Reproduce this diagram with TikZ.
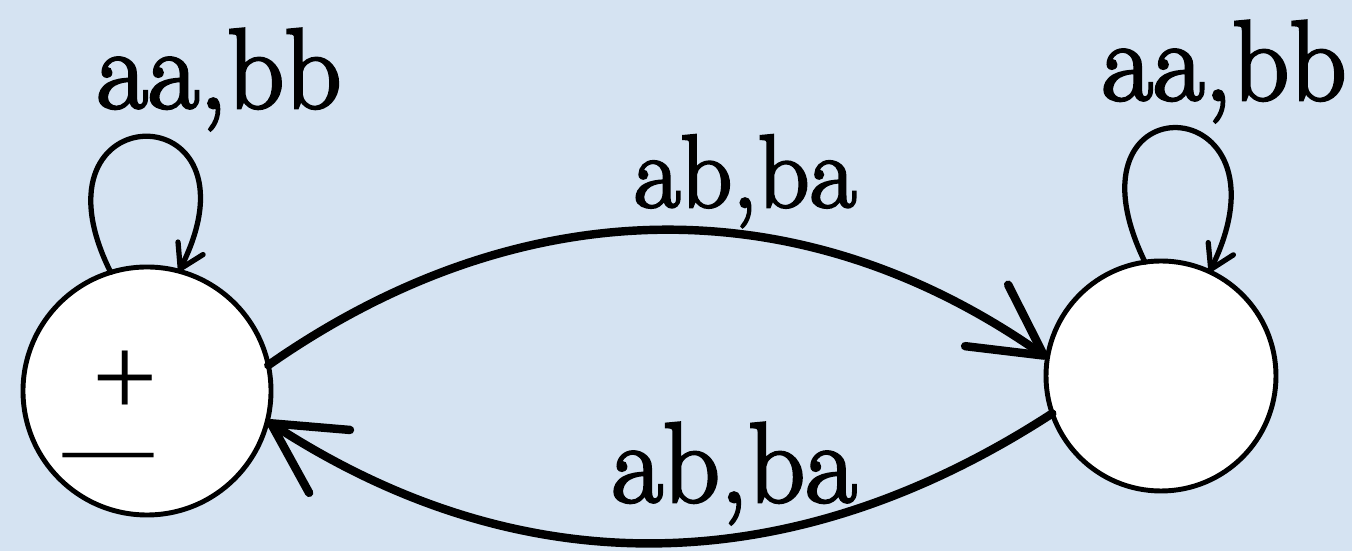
\documentclass[tikz,border=0pt]{standalone}
\usepackage{fontspec}
\newfontfamily\lserif{Liberation Serif}
\newfontfamily\lmfont{Latin Modern Roman}[FakeStretch=0.98,FakeBold=2.5]
\usetikzlibrary{arrows.meta}
\definecolor{bgblue}{RGB}{213,227,242}
\begin{document}
\begin{tikzpicture}[x=0.1mm,y=0.1mm,
  statenode/.style={circle,draw=black,fill=white,line width=1.4pt,inner sep=0pt,outer sep=0pt},
  lbl/.style={inner sep=0pt,anchor=base,font=\lmfont\fontsize{32.5}{36}\selectfont},
  bigarrow/.style={line width=2.4pt,line cap=round,-{Straight Barb[length=7mm,width=7.5mm,round]}},
  selfloop/.style={line width=1.5pt,line cap=round,-{Straight Barb[length=2.3mm,width=2.8mm,round]}}]
\fill[bgblue] (0,0) rectangle (1352,551);
\useasboundingbox (0,0) rectangle (1352,551);
% states
\node[statenode,minimum size=24.8mm] (L) at (147,160) {};
\node[statenode,minimum size=23mm] (R) at (1161,175) {};
% start/final mark
\node[inner sep=0pt,anchor=south,align=center,font=\lserif\fontsize{25.6}{17.1}\selectfont] (pm) at (108,74)
  {{\fontsize{33}{17.1}\selectfont\hspace*{3.4mm}+}\\—};
% self loops
\draw[selfloop] (L.107) .. controls +(-90,180) and +(90,180) .. (L.75);
\draw[selfloop] (R.98) .. controls +(-90,185) and +(90,185) .. (R.65);
% transitions
\draw[bigarrow] (L.12) to[out=35,in=145] (R.171);
\draw[bigarrow] (R.199) to[out=213,in=-33] (L.-14);
% labels
\node[lbl] (l1) at (219,443) {aa,bb};
\node[lbl] (l2) at (1224,451) {aa,bb};
\node[lbl,font=\lmfont\fontsize{29.5}{33}\selectfont] (l3) at (745,344) {ab,ba};
\node[lbl] (l4) at (734,49) {ab,ba};
\end{tikzpicture}
\end{document}
